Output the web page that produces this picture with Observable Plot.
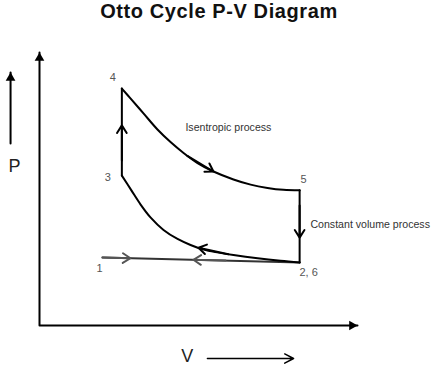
<!DOCTYPE html>
<html><head><meta charset="utf-8">
<script src="https://cdn.jsdelivr.net/npm/d3@7"></script>
<script src="https://cdn.jsdelivr.net/npm/@observablehq/plot@0.6"></script>
<style>
html,body{margin:0;padding:0;background:#fff;}
#title{height:30px;font-family:"Liberation Sans",Arial,sans-serif;font-weight:bold;font-size:20px;letter-spacing:0.6px;text-align:center;line-height:22px;color:#111;}
#chart svg{display:block;}
</style></head><body>
<div id="title">Otto Cycle P-V Diagram</div>
<div id="chart"></div>
<script>
// State points of the cycle (V, P in arbitrary units)
const pointNames = ["1", "2, 6", "3", "4", "5"];
const pointV = [1.98, 8.18, 2.59, 2.59, 8.18];
const pointP = [2.49, 2.31, 5.49, 8.68, 4.95];

// Isentropic expansion 4 -> 5
const expV = [2.59, 2.86, 3.27, 3.71, 4.12, 4.53, 4.97, 5.47, 6.10, 6.64, 7.17, 7.67, 8.18];
const expP = [8.68, 8.32, 7.77, 7.18, 6.72, 6.32, 5.95, 5.64, 5.35, 5.16, 5.04, 4.97, 4.95];

// Isentropic compression curve 3 ... 2
const compV = [2.59, 2.89, 3.18, 3.49, 3.90, 4.34, 4.75, 5.16, 5.63, 6.10, 6.86, 7.58, 8.18];
const compP = [5.49, 4.95, 4.43, 3.96, 3.50, 3.17, 2.95, 2.78, 2.67, 2.58, 2.46, 2.37, 2.31];

// Direction chevrons along the cycle (from -> to)
const arrowV1 = [4.65, 5.94, 2.59, 8.18];
const arrowP1 = [6.21, 2.61, 6.04, 4.40];
const arrowV2 = [5.47, 5.00, 2.59, 8.18];
const arrowP2 = [5.64, 2.85, 7.33, 3.22];
// chevrons on the intake/exhaust line 1 - 2
const lineArrowV1 = [1.98, 5.85];
const lineArrowP1 = [2.49, 2.378];
const lineArrowV2 = [2.86, 4.84];
const lineArrowP2 = [2.464, 2.407];

// Axes
const axisV = [0, 0, 10];
const axisP = [10, 0, 0];
const annoText = ["Isentropic process", "Constant volume process"];
const annoV = [5.94, 8.52];
const annoP = [7.25, 3.70];
const axisTitles = ["P", "V"];
const axisTitleV = [-0.79, 4.65];
const axisTitleP = [5.82, -1.14];
const pArrowV = [-0.91, -0.91];
const pArrowP = [6.67, 9.27];
const vArrowV = [5.28, 7.99];
const vArrowP = [-1.21, -1.21];

const pts = pointNames.map((n, i) => ({name: n, V: pointV[i], P: pointP[i]}));
const exp = expV.map((v, i) => ({V: v, P: expP[i]}));
const comp = compV.map((v, i) => ({V: v, P: compP[i]}));
const arrows = arrowV1.map((v, i) => ({x1: v, y1: arrowP1[i], x2: arrowV2[i], y2: arrowP2[i]}));
const lineArrows = lineArrowV1.map((v, i) => ({x1: v, y1: lineArrowP1[i], x2: lineArrowV2[i], y2: lineArrowP2[i]}));
const axisLine = axisV.map((v, i) => ({V: v, P: axisP[i]}));
const annos = annoText.map((t, i) => ({t, V: annoV[i], P: annoP[i]}));

const byName = Object.fromEntries(pts.map(d => [d.name, d]));
const seg = (a, b) => [byName[a], byName[b]];

const labelOffsets = {"1": [-3, 11], "2, 6": [9, 10], "3": [-14, 2], "4": [-9, -11], "5": [4, -11]};
const labelMarks = pts.map(d => Plot.text([d], {x: "V", y: "P", text: "name", dx: labelOffsets[d.name][0], dy: labelOffsets[d.name][1], fontSize: 11, fill: "#555"}));

const chart = Plot.plot({
  width: 438,
  height: 338,
  marginLeft: 39,
  marginRight: 81,
  marginTop: 22,
  marginBottom: 43,
  x: {domain: [0, 10], axis: null},
  y: {domain: [0, 10], axis: null},
  style: {background: "white", fontFamily: "'Liberation Sans', Arial, sans-serif", overflow: "visible"},
  marks: [
    // axes
    Plot.line(axisLine, {x: "V", y: "P", stroke: "#000", strokeWidth: 2}),
    Plot.dot([{V: 0, P: 10}], {x: "V", y: "P", symbol: "triangle", r: 3.6, fill: "#000", dy: 5.5}),
    Plot.dot([{V: 10, P: 0}], {x: "V", y: "P", symbol: "triangle", r: 3.6, fill: "#000", rotate: 90, dx: -5.5}),
    // P arrow
    Plot.line(pArrowV.map((v, i) => ({V: v, P: pArrowP[i]})), {x: "V", y: "P", stroke: "#000", strokeWidth: 2}),
    Plot.dot([{V: pArrowV[1], P: pArrowP[1]}], {x: "V", y: "P", symbol: "triangle", r: 3.6, fill: "#000", dy: 5.5}),
    // V arrow
    Plot.arrow([{x1: vArrowV[0], y1: vArrowP[0], x2: vArrowV[1], y2: vArrowP[1]}], {x1: "x1", y1: "y1", x2: "x2", y2: "y2", stroke: "#000", strokeWidth: 1.5, headLength: 10, headAngle: 55}),
    Plot.text(axisTitles.map((t, i) => ({t, V: axisTitleV[i], P: axisTitleP[i]})), {x: "V", y: "P", text: "t", fontSize: 18, fill: "#222"}),
    // intake / exhaust line 1 - 2
    Plot.line(seg("1", "2, 6"), {x: "V", y: "P", stroke: "#333", strokeWidth: 2}),
    // compression curve
    Plot.line(comp, {x: "V", y: "P", stroke: "#000", strokeWidth: 2, curve: "catmull-rom"}),
    // heat addition 3 -> 4
    Plot.line(seg("3", "4"), {x: "V", y: "P", stroke: "#000", strokeWidth: 2}),
    // expansion 4 -> 5
    Plot.line(exp, {x: "V", y: "P", stroke: "#000", strokeWidth: 2, curve: "catmull-rom"}),
    // heat rejection 5 -> 2
    Plot.line(seg("5", "2, 6"), {x: "V", y: "P", stroke: "#000", strokeWidth: 2}),
    // direction chevrons
    Plot.arrow(arrows, {x1: "x1", y1: "y1", x2: "x2", y2: "y2", stroke: "#000", strokeWidth: 2, headLength: 6.75, headAngle: 65}),
    Plot.arrow(lineArrows, {x1: "x1", y1: "y1", x2: "x2", y2: "y2", stroke: "#555", strokeWidth: 2, headLength: 6.75, headAngle: 65}),
    // labels
    ...labelMarks,
    Plot.text(annos.slice(0, 1), {x: "V", y: "P", text: "t", fontSize: 10.6, fill: "#333"}),
    Plot.text(annos.slice(1), {x: "V", y: "P", text: "t", fontSize: 10.6, fill: "#333", textAnchor: "start"})
  ]
});
document.getElementById("chart").appendChild(chart);
</script>
</body></html>
